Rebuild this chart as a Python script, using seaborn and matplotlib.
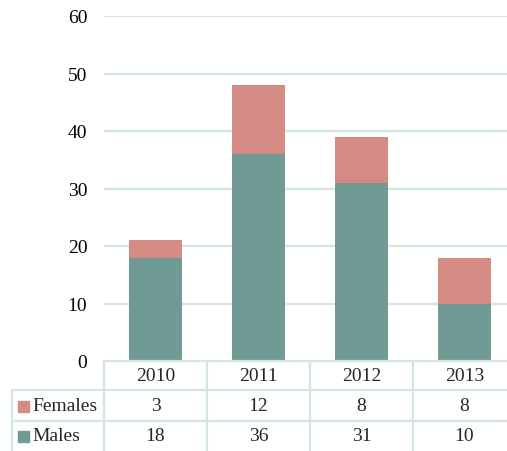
import matplotlib
matplotlib.use("Agg")
import matplotlib.pyplot as plt
import matplotlib.transforms as mtransforms
from matplotlib.lines import Line2D
from matplotlib.patches import Rectangle
import seaborn as sns
import pandas as pd

years = ["2010", "2011", "2012", "2013"]
females = [3, 12, 8, 8]
males = [18, 36, 31, 10]
series_names = ["Females", "Males"]
yticks = [0, 10, 20, 30, 40, 50, 60]

FEM = "#D38B84"
MAL = "#6F9B94"
GRID = "#D3E7DF"
FS = 14

sns.set_theme(style="white")
plt.rcParams["font.family"] = ["Liberation Serif", "DejaVu Serif"]

W, H = 507, 452
fig = plt.figure(figsize=(W / 100, H / 100), dpi=100)

def fx(px):
    return px / W

def fy(py):
    return 1 - py / H

ax_l, ax_r, ax_t, ax_b = 104, 516, 17, 362
ax = fig.add_axes([fx(ax_l), fy(ax_b), fx(ax_r - ax_l), (ax_b - ax_t) / H])

df = pd.DataFrame({"year": years, "Females": females, "Males": males})
df["total"] = df["Females"] + df["Males"]

sns.barplot(data=df, x="year", y="total", color=FEM, width=0.515, ax=ax,
            saturation=1, edgecolor="none", zorder=3)
sns.barplot(data=df, x="year", y="Males", color=MAL, width=0.515, ax=ax,
            saturation=1, edgecolor="none", zorder=3)

ax.set_xlim(-0.5, 3.5)
ax.set_ylim(0, 60)
ax.set_yticks(yticks)
ax.set_yticklabels([str(t) for t in yticks], fontsize=FS)
ax.tick_params(axis="y", length=0, pad=12, colors="black")
ax.set_xticks([])
ax.set_xlabel("")
ax.set_ylabel("")
for s in ax.spines.values():
    s.set_visible(False)
for t in yticks[1:]:
    ax.axhline(t, color=GRID, lw=1.6, zorder=1)

# data table below the axes
lw = 1.6
def hline(y, x0, x1):
    fig.add_artist(Line2D([fx(x0), fx(x1)], [fy(y), fy(y)], color=GRID, lw=lw))

def vline(x, y0, y1):
    fig.add_artist(Line2D([fx(x), fx(x)], [fy(y0), fy(y1)], color=GRID, lw=lw))

hline(362, 104, 520)
hline(391, 12, 520)
hline(422, 12, 520)
vline(12, 391, 460)
for xb in [104, 207, 310, 413]:
    vline(xb, 362, 460)

trans = mtransforms.blended_transform_factory(ax.transData, fig.transFigure)
row_y = {"header": 377, "Females": 407, "Males": 437}
for i, yr in enumerate(years):
    fig.text(i, fy(row_y["header"]), yr, transform=trans, ha="center", va="center", fontsize=FS)
    fig.text(i, fy(row_y["Females"]), str(females[i]), transform=trans, ha="center", va="center", fontsize=FS)
    fig.text(i, fy(row_y["Males"]), str(males[i]), transform=trans, ha="center", va="center", fontsize=FS)

for name, col in zip(series_names, [FEM, MAL]):
    yc = row_y[name]
    fig.add_artist(Rectangle((fx(18), fy(yc + 5.5)), fx(11), 11 / H, color=col,
                             transform=fig.transFigure))
    fig.text(fx(32), fy(yc), name, ha="left", va="center", fontsize=FS)

fig.savefig("out.png", dpi=100)
